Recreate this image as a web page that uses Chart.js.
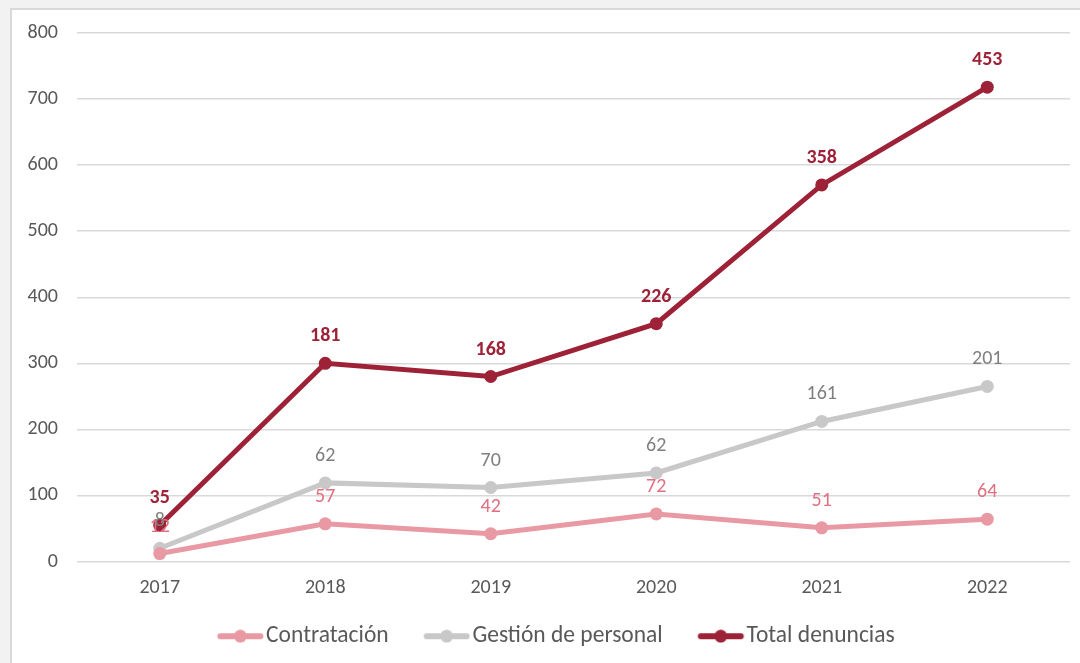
<!DOCTYPE html>
<html>
<head>
<meta charset="utf-8">
<script src="https://cdn.jsdelivr.net/npm/chart.js@4/dist/chart.umd.min.js"></script>
<style>
  html, body { margin: 0; padding: 0; background: #f2f2f2; }
  #panel { position: absolute; left: 10px; top: 8px; width: 1080px; height: 670px; background: #fff; border: 2px solid #d9d9d9; }
  #wrap { position: absolute; left: 0; top: 0; width: 1080px; height: 663px; }
</style>
</head>
<body>
<div id="panel"></div>
<div id="wrap"><canvas id="lineChart" width="1080" height="663"></canvas></div>
<script>
// datos (apilados: cada serie se suma sobre la anterior)
const years = ['2017', '2018', '2019', '2020', '2021', '2022'];
const contratacion = [12, 57, 42, 72, 51, 64];
const gestion = [8, 62, 70, 62, 161, 201];
const totalDenuncias = [35, 181, 168, 226, 358, 453];
const yTicks = [0, 100, 200, 300, 400, 500, 600, 700, 800];

const FONT = '"Carlito", "Liberation Sans", "DejaVu Sans", sans-serif';

// marcador de leyenda: linea con punto (espacio transparente a la izquierda para separar items)
function legendMarker(color) {
    const c = document.createElement('canvas');
    c.width = 74; c.height = 14;
    const ctx = c.getContext('2d');
    ctx.strokeStyle = color; ctx.lineWidth = 6; ctx.lineCap = 'round';
    ctx.beginPath(); ctx.moveTo(29.5, 7); ctx.lineTo(69.5, 7); ctx.stroke();
    ctx.fillStyle = color;
    ctx.beginPath(); ctx.arc(49.5, 7, 6.5, 0, Math.PI * 2); ctx.fill();
    return c;
}

// etiquetas de valor sobre cada punto
const valueLabels = {
    id: 'valueLabels',
    afterDatasetsDraw(chart) {
        const ctx = chart.ctx;
        chart.data.datasets.forEach((ds, i) => {
            const meta = chart.getDatasetMeta(i);
            ctx.save();
            ctx.fillStyle = ds.labelColor;
            ctx.font = (ds.labelBold ? 'bold ' : '') + '20px ' + FONT;
            ctx.textAlign = 'center';
            ctx.textBaseline = 'middle';
            meta.data.forEach((pt, j) => {
                ctx.fillText(String(ds.data[j]), pt.x, pt.y - 27);
            });
            ctx.restore();
        });
    }
};

const series = [
    { label: 'Contratación', data: contratacion, color: '#e899a3', labelColor: '#e0707f', bold: false },
    { label: 'Gestión de personal', data: gestion, color: '#c8c8c8', labelColor: '#7f7f7f', bold: false },
    { label: 'Total denuncias', data: totalDenuncias, color: '#9e2237', labelColor: '#9e2237', bold: true }
];

new Chart(document.getElementById('lineChart').getContext('2d'), {
    type: 'line',
    data: {
        labels: years,
        datasets: series.map(s => ({
            label: s.label,
            data: s.data,
            borderColor: s.color,
            backgroundColor: s.color,
            borderWidth: 5,
            pointRadius: 6.5,
            pointHoverRadius: 6.5,
            pointBorderWidth: 0,
            tension: 0,
            fill: false,
            labelColor: s.labelColor,
            labelBold: s.bold,
            marker: legendMarker(s.color)
        }))
    },
    options: {
        responsive: false,
        animation: false,
        layout: { padding: { left: 26, right: 10, top: 33, bottom: 5 } },
        scales: {
            x: {
                offset: true,
                grid: { display: false },
                border: { display: false },
                ticks: { color: '#595959', font: { family: FONT, size: 20 }, padding: 6 }
            },
            y: {
                stacked: true,
                min: 0,
                max: 800,
                afterBuildTicks: axis => { axis.ticks = yTicks.map(v => ({ value: v })); },
                afterFit: axis => { axis.width = 51; },
                grid: { color: '#d9d9d9', lineWidth: 1.5, drawTicks: false },
                border: { display: false },
                ticks: { color: '#595959', font: { family: FONT, size: 20 }, padding: 19 }
            }
        },
        plugins: {
            tooltip: { enabled: false },
            legend: {
                position: 'bottom',
                labels: {
                    usePointStyle: true,
                    pointStyleWidth: 53,
                    boxHeight: 14,
                    color: '#595959',
                    font: { family: FONT, size: 23.5 },
                    padding: 19,
                    generateLabels: chart => chart.data.datasets.map((ds, i) => ({
                        text: ds.label,
                        pointStyle: ds.marker,
                        fontColor: '#595959',
                        datasetIndex: i,
                        hidden: false,
                        lineWidth: 0
                    }))
                }
            }
        }
    },
    plugins: [valueLabels]
});
</script>
</body>
</html>
